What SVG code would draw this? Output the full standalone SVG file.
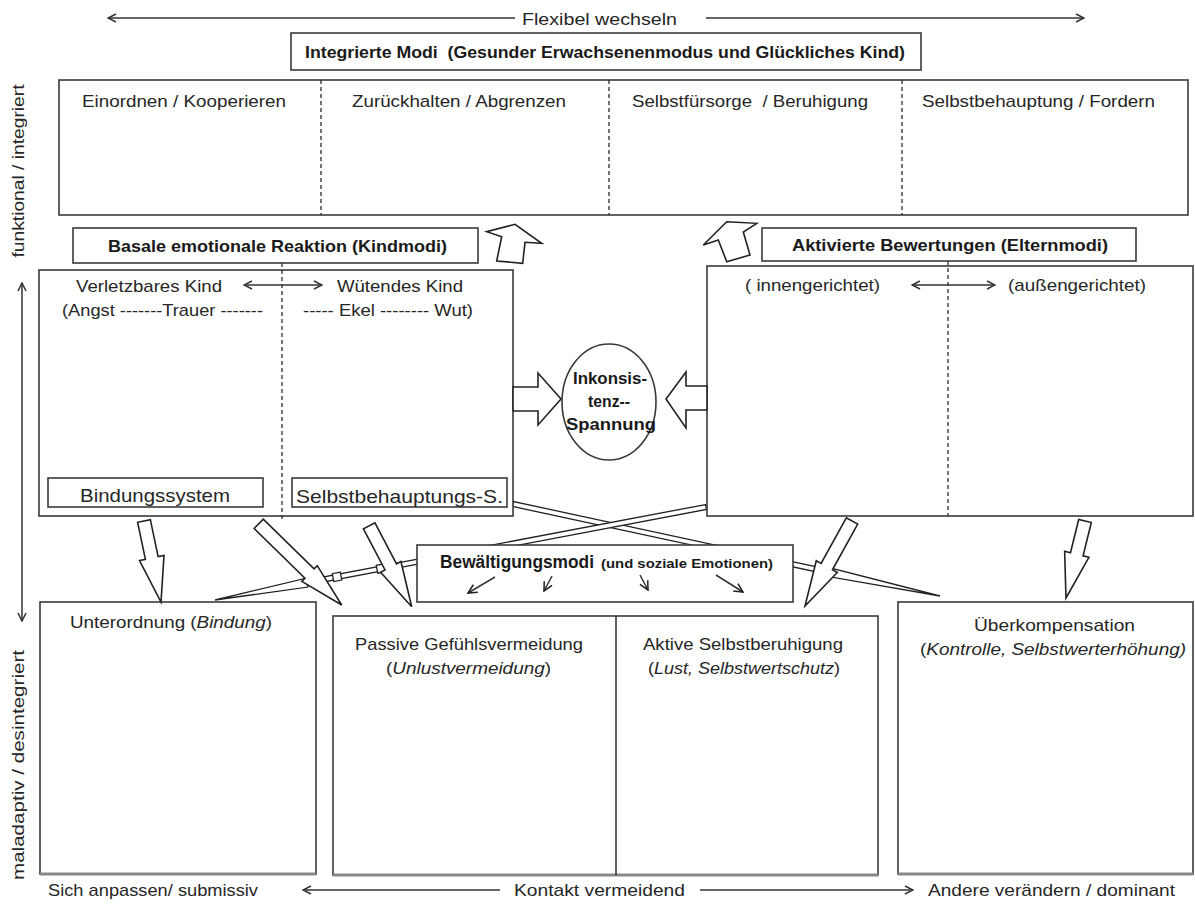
<svg xmlns="http://www.w3.org/2000/svg" width="1195" height="906" viewBox="0 0 1195 906">
<defs>
<style>
.t{font-family:"Liberation Sans",Arial,sans-serif;font-size:17px;fill:#262626}
.b{font-family:"Liberation Sans",Arial,sans-serif;font-size:16.5px;font-weight:bold;fill:#1a1a1a}
.box{fill:#fff;stroke:#3a3a3a;stroke-width:1.6}
.dash{stroke:#2a2a2a;stroke-width:1.3;stroke-dasharray:4 3;fill:none}
.ln{stroke:#333;stroke-width:1.5;fill:none}
.fat{fill:#fff;stroke:#222;stroke-width:1.6;stroke-linejoin:miter}
.tube{fill:#fff;stroke:#222;stroke-width:1.3}
.shadow{stroke:#888;stroke-width:3}
</style>
<marker id="ah" viewBox="0 0 10 10" refX="9" refY="5" markerWidth="10" markerHeight="10" markerUnits="userSpaceOnUse" orient="auto-start-reverse">
<path d="M1,1 L9,5 L1,9" fill="none" stroke="#333" stroke-width="1.5"/>
</marker>
<marker id="ahs" viewBox="0 0 10 10" refX="9" refY="5" markerWidth="11" markerHeight="11" markerUnits="userSpaceOnUse" orient="auto-start-reverse">
<path d="M1,1 L9,5 L1,9" fill="none" stroke="#222" stroke-width="1.4"/>
</marker>
</defs>
<rect width="1195" height="906" fill="#fff"/>

<!-- tubes (under boxes) -->
<g id="connectors-tubes">
<polygon class="tube" points="512.47,506.44 827.47,574.34 827.05,576.3 940,596 828.95,567.5 828.53,569.46 513.53,501.56"/>
<polygon class="tube" points="705.53,504.54 306.53,580.14 306.16,578.18 215,600 307.84,587.02 307.47,585.06 706.47,509.46"/>
<polygon class="tube" points="340.26,572.17 332.26,573.67 333.74,581.53 341.74,580.03"/>
<polygon class="tube" points="384.26,563.87 376.26,565.37 377.74,573.23 385.74,571.73"/>
</g>

<g id="axis-top">
<line class="ln" x1="108" y1="18" x2="515" y2="18" marker-start="url(#ah)"/>
<line class="ln" x1="706" y1="18" x2="1084" y2="18" marker-end="url(#ah)"/>
<text class="t" x="522" y="25" textLength="155" lengthAdjust="spacingAndGlyphs">Flexibel wechseln</text>
</g>

<g id="integrierte-title">
<rect class="box" x="291" y="33" width="630" height="37"/>
<text class="b" x="305" y="58" textLength="600" lengthAdjust="spacingAndGlyphs">Integrierte Modi &#160;(Gesunder Erwachsenenmodus und Glückliches Kind)</text>
</g>

<g id="integrierte-box">
<rect class="box" x="59" y="80" width="1129" height="135"/>
<line class="dash" x1="321" y1="80" x2="321" y2="215"/>
<line class="dash" x1="609" y1="80" x2="609" y2="215"/>
<line class="dash" x1="902" y1="80" x2="902" y2="215"/>
<text class="t" x="82" y="107" textLength="204" lengthAdjust="spacingAndGlyphs">Einordnen / Kooperieren</text>
<text class="t" x="352" y="107" textLength="214" lengthAdjust="spacingAndGlyphs">Zurückhalten / Abgrenzen</text>
<text class="t" x="632" y="107" textLength="236" lengthAdjust="spacingAndGlyphs">Selbstfürsorge &#160;/ Beruhigung</text>
<text class="t" x="922" y="107" textLength="233" lengthAdjust="spacingAndGlyphs">Selbstbehauptung / Fordern</text>
</g>

<g id="axis-vertical">
<text class="t" transform="translate(24,171) rotate(-90)" text-anchor="middle" textLength="173" lengthAdjust="spacingAndGlyphs">funktional / integriert</text>
<line class="ln" x1="22" y1="283" x2="22" y2="621" marker-start="url(#ah)" marker-end="url(#ah)"/>
<text class="t" transform="translate(24,765) rotate(-90)" text-anchor="middle" textLength="230" lengthAdjust="spacingAndGlyphs">maladaptiv / desintegriert</text>
</g>

<g id="kindmodi-box">
<rect class="box" x="39" y="270" width="474" height="246"/>
<line class="dash" x1="282" y1="263" x2="282" y2="521"/>
<text class="t" x="76" y="292" textLength="146" lengthAdjust="spacingAndGlyphs">Verletzbares Kind</text>
<line class="ln" x1="244" y1="285" x2="322" y2="285" marker-start="url(#ah)" marker-end="url(#ah)"/>
<text class="t" x="337" y="292" textLength="126" lengthAdjust="spacingAndGlyphs">Wütendes Kind</text>
<text class="t" x="62" y="316" textLength="201" lengthAdjust="spacingAndGlyphs">(Angst -------Trauer -------</text>
<text class="t" x="303" y="316" textLength="170" lengthAdjust="spacingAndGlyphs">----- Ekel -------- Wut)</text>
<rect class="box" x="48" y="478" width="215" height="29"/>
<text class="t" x="80" y="502" style="font-size:19px" textLength="150" lengthAdjust="spacingAndGlyphs">Bindungssystem</text>
<rect class="box" x="292" y="478" width="215" height="29"/>
<text class="t" x="296" y="503" style="font-size:19px" textLength="207" lengthAdjust="spacingAndGlyphs">Selbstbehauptungs-S.</text>
</g>

<g id="kindmodi-title">
<rect class="box" x="73" y="228" width="405" height="35"/>
<text class="b" x="108" y="252" textLength="339" lengthAdjust="spacingAndGlyphs">Basale emotionale Reaktion (Kindmodi)</text>
</g>

<g id="elternmodi-box">
<rect class="box" x="707" y="266" width="486" height="250"/>
<line class="dash" x1="948" y1="261" x2="948" y2="516"/>
<text class="t" x="745" y="291" textLength="135" lengthAdjust="spacingAndGlyphs">( innengerichtet)</text>
<line class="ln" x1="912" y1="285" x2="995" y2="285" marker-start="url(#ah)" marker-end="url(#ah)"/>
<text class="t" x="1008" y="291" textLength="138" lengthAdjust="spacingAndGlyphs">(außengerichtet)</text>
</g>

<g id="elternmodi-title">
<rect class="box" x="762" y="228" width="374" height="33"/>
<text class="b" x="792" y="251" textLength="316" lengthAdjust="spacingAndGlyphs">Aktivierte Bewertungen (Elternmodi)</text>
</g>

<g id="inkonsistenz">
<ellipse class="box" cx="609" cy="402" rx="47" ry="58"/>
<text class="b" x="610" y="384" text-anchor="middle" style="font-size:16.5px" textLength="74" lengthAdjust="spacingAndGlyphs">Inkonsis-</text>
<text class="b" x="609" y="407" text-anchor="middle" style="font-size:16.5px" textLength="42" lengthAdjust="spacingAndGlyphs">tenz--</text>
<text class="b" x="611" y="430" text-anchor="middle" style="font-size:16.5px" textLength="90" lengthAdjust="spacingAndGlyphs">Spannung</text>
</g>

<g id="bewaeltigung">
<rect class="box" x="417" y="545" width="376" height="57"/>
<text class="b" x="440" y="568" style="font-size:17.5px" textLength="154" lengthAdjust="spacingAndGlyphs">Bewältigungsmodi</text>
<text class="b" x="601" y="568" style="font-size:13px" textLength="172" lengthAdjust="spacingAndGlyphs">(und soziale Emotionen)</text>
<line class="ln" x1="495" y1="577" x2="468" y2="593" marker-end="url(#ahs)"/>
<line class="ln" x1="552" y1="576" x2="544" y2="591" marker-end="url(#ahs)"/>
<line class="ln" x1="640" y1="575" x2="648" y2="590" marker-end="url(#ahs)"/>
<line class="ln" x1="716" y1="575" x2="743" y2="592" marker-end="url(#ahs)"/>
</g>

<g id="unterordnung">
<rect class="box" x="40" y="602" width="276" height="272"/>
<line class="shadow" x1="40" y1="874" x2="316" y2="874"/>
<text class="t" x="70" y="628" textLength="202" lengthAdjust="spacingAndGlyphs">Unterordnung (<tspan font-style="italic">Bindung</tspan>)</text>
</g>

<g id="vermeidung">
<rect class="box" x="333" y="616" width="545" height="259"/>
<line class="shadow" x1="333" y1="875" x2="878" y2="875"/>
<line x1="616" y1="616" x2="616" y2="875" stroke="#222" stroke-width="1.4"/>
<text class="t" x="355" y="650" textLength="228" lengthAdjust="spacingAndGlyphs">Passive Gefühlsvermeidung</text>
<text class="t" x="386" y="674" textLength="165" lengthAdjust="spacingAndGlyphs">(<tspan font-style="italic">Unlustvermeidung</tspan>)</text>
<text class="t" x="643" y="650" textLength="200" lengthAdjust="spacingAndGlyphs">Aktive Selbstberuhigung</text>
<text class="t" x="648" y="674" textLength="192" lengthAdjust="spacingAndGlyphs">(<tspan font-style="italic">Lust, Selbstwertschutz</tspan>)</text>
</g>

<g id="ueberkompensation">
<rect class="box" x="898" y="602" width="295" height="272"/>
<line class="shadow" x1="898" y1="874" x2="1193" y2="874"/>
<text class="t" x="974" y="631" textLength="161" lengthAdjust="spacingAndGlyphs">Überkompensation</text>
<text class="t" x="920" y="655" textLength="266" lengthAdjust="spacingAndGlyphs">(<tspan font-style="italic">Kontrolle, Selbstwerterhöhung)</tspan></text>
</g>

<g id="axis-bottom">
<text class="t" x="48" y="896" textLength="210" lengthAdjust="spacingAndGlyphs">Sich anpassen/ submissiv</text>
<line class="ln" x1="303" y1="890" x2="500" y2="890" marker-start="url(#ah)"/>
<text class="t" x="514" y="896" textLength="171" lengthAdjust="spacingAndGlyphs">Kontakt vermeidend</text>
<line class="ln" x1="700" y1="890" x2="913" y2="890" marker-end="url(#ah)"/>
<text class="t" x="928" y="896" textLength="247" lengthAdjust="spacingAndGlyphs">Andere verändern / dominant</text>
</g>

<g id="connectors">
<polygon class="fat" points="496.7,261 501.7,236.7 486.7,231.7 515,224.3 541.7,243.3 525,242.3 522.7,263.3"/>
<polygon class="fat" points="726.7,261.7 718.3,240 703.3,245 726.7,221.7 756.7,223.3 743.3,232 750,255"/>
<polygon class="fat" points="513,387 538,387 538,373 561,399 538,425 538,411 513,411"/>
<polygon class="fat" points="707,386 686,386 686,372 666,399 686,428 686,410 707,410"/>
<polygon class="fat" points="137.64,522.34 145.40,559.30 139.53,560.53 161,602 163.99,555.39 158.12,556.62 150.36,519.66"/>
<polygon class="fat" points="254.15,528.45 304.98,578.18 301.84,581.39 341.7,605 317.22,565.67 314.08,568.88 263.25,519.15"/>
<polygon class="fat" points="363.45,528.82 385.02,569.89 380.59,572.22 411.7,606.7 400.95,561.52 396.52,563.85 374.95,522.78"/>
<polygon class="fat" points="846.31,517.85 821.09,563.47 816.28,560.81 805,606 837.28,572.43 832.47,569.77 857.69,524.15"/>
<polygon class="fat" points="1078.69,519.44 1070.47,552.75 1064.64,551.31 1066,598 1088.92,557.31 1083.09,555.87 1091.31,522.56"/>
</g>
</svg>
